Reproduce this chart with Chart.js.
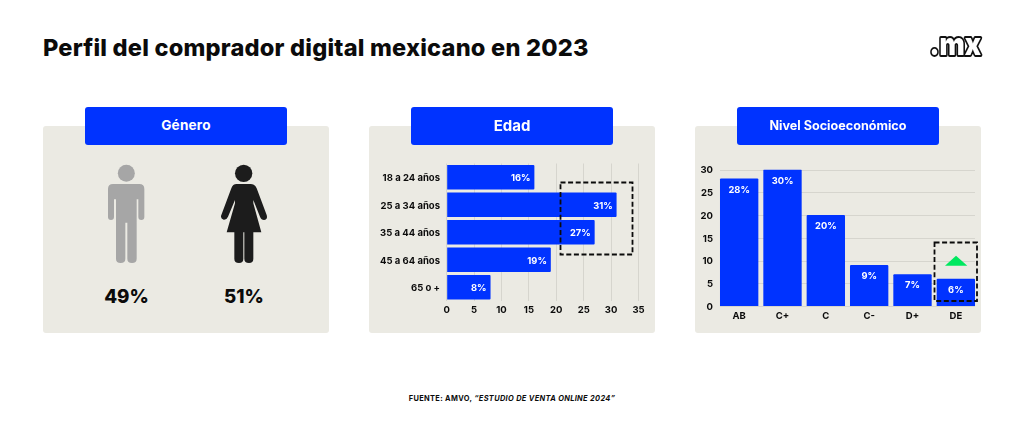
<!DOCTYPE html>
<html lang="es"><head><meta charset="utf-8">
<script src="https://cdn.jsdelivr.net/npm/chart.js@4"></script>
<style>
html,body{margin:0;padding:0;background:#fff;width:1024px;height:426px;overflow:hidden;font-family:Inter,sans-serif}
.a{position:absolute}
.panel{background:#ebeae3;border-radius:3px;top:126px;height:207px;width:286px}
.head{background:#0033ff;color:#fff;border-radius:3px;top:107px;height:38px;width:202px;line-height:37px;text-align:center;font-weight:700;z-index:3}
.pct{top:285px;font-size:18.8px;font-weight:800;color:#0b0b0b;width:80px;text-align:center;line-height:24px}
canvas{position:absolute;display:block}
svg{position:absolute;left:0;top:0;z-index:4;pointer-events:none}
</style></head><body>
<div class="a" id="title" style="left:43px;top:33px;font-size:23.6px;font-weight:800;letter-spacing:.2px;line-height:30px;color:#0b0b0b;white-space:nowrap"></div>
<div class="a panel" style="left:43px"></div>
<div class="a panel" style="left:369px"></div>
<div class="a panel" style="left:695px"></div>
<div class="a head" id="h0" style="left:85px;font-size:13.6px;letter-spacing:.2px"></div>
<div class="a head" id="h1" style="left:411px;font-size:15px"></div>
<div class="a head" id="h2" style="left:737px;font-size:12.6px"></div>
<div class="a pct" id="p0" style="left:86.5px;z-index:3"></div>
<div class="a pct" id="p1" style="left:204px;z-index:3"></div>
<canvas id="cA" style="left:369px;top:126px;z-index:2" width="286" height="207"></canvas>
<canvas id="cB" style="left:695px;top:126px;z-index:2" width="286" height="207"></canvas>
<div class="a" id="src" style="left:312px;width:400px;top:393px;text-align:center;font-size:7.4px;font-weight:700;letter-spacing:.35px;line-height:12px;color:#0b0b0b;white-space:nowrap"></div>
<svg width="1024" height="426" viewBox="0 0 1024 426">
  <g transform="translate(40 100) scale(.33333)">
    <circle cx="259" cy="220" r="25.5" fill="#a6a6a6"/>
    <path fill="#a6a6a6" d="M219 252H298Q313 252 313 267V351Q313 360 304 360Q295 360 295 351V298H290V476Q290 489 276 489Q262 489 262 476V368H256V476Q256 489 242 489Q228 489 228 476V298H222V351Q222 360 213 360Q204 360 204 351V267Q204 252 219 252Z"/>
    <circle cx="611" cy="220" r="26" fill="#1c1c1c"/>
    <path fill="#1c1c1c" d="M590 252H632Q645 252 650 265L680 345Q684 358 672 360Q664 360 660 350L640 300V310L664 397H640V476Q640 489 627 489Q613 489 613 476V397H610V476Q610 489 597 489Q583 489 583 476V397H560L585 310V300L564 350Q560 360 551 359Q540 355 544 345L574 265Q578 252 590 252Z"/>
  </g>
  <rect x="560.5" y="182.5" width="72" height="72" fill="none" stroke="#0b0b0b" stroke-width="1.8" stroke-dasharray="5 2.6"/>
  <rect x="934.5" y="242.5" width="42.5" height="58.5" fill="none" stroke="#0b0b0b" stroke-width="1.8" stroke-dasharray="5 2.6"/>
  <polygon points="945,265.7 956,255.8 967.3,265.7" fill="#00e85f"/>
  <text x="929.5" y="55" font-family="Inter" font-weight="900" font-size="31" textLength="51.5" lengthAdjust="spacingAndGlyphs" fill="#fff" stroke="#111" stroke-width="3.8" stroke-linejoin="round" paint-order="stroke">.mx</text>
</svg>
<script>
const titleText = "Perfil del comprador digital mexicano en 2023";
const sourceLead = "FUENTE: AMVO, ";
const sourceItalic = "\u201CESTUDIO DE VENTA ONLINE 2024\u201D";
const panelTitles = ["Género", "Edad", "Nivel Socioeconómico"];
const genderValues = ["49%", "51%"];
const ageCategories = ["18 a 24 años", "25 a 34 años", "35 a 44 años", "45 a 64 años", "65 o +"];
const ageValues = [16, 31, 27, 19, 8];
const ageTicks = [0, 5, 10, 15, 20, 25, 30, 35];
const nseCategories = ["AB", "C+", "C", "C-", "D+", "DE"];
const nseValues = [28, 30, 20, 9, 7, 6];
const nseTicks = [0, 5, 10, 15, 20, 25, 30];

const BLUE = "#0033ff", GRID = "#d6d5ce", INK = "#0b0b0b";
document.getElementById("title").textContent = titleText;
panelTitles.forEach((t, i) => document.getElementById("h" + i).textContent = t);
genderValues.forEach((t, i) => document.getElementById("p" + i).textContent = t);
const src = document.getElementById("src");
src.textContent = sourceLead;
const em = document.createElement("i"); em.textContent = sourceItalic; src.appendChild(em);

const tickFont = {family: "Inter", size: 9.5, weight: "700"};
Chart.defaults.animation = false;
Chart.defaults.responsive = false;

const valueLabels = {
  id: "valueLabels",
  afterDatasetsDraw(chart) {
    const ctx = chart.ctx, horizontal = chart.options.indexAxis === "y";
    ctx.save();
    ctx.fillStyle = "#fff";
    ctx.font = "700 9.3px Inter";
    ctx.textBaseline = "middle";
    chart.getDatasetMeta(0).data.forEach((bar, i) => {
      const txt = chart.data.datasets[0].data[i] + "%";
      if (horizontal) {
        ctx.textAlign = "right";
        ctx.fillText(txt, bar.x - 4, bar.y + 1);
      } else {
        ctx.textAlign = "center";
        ctx.fillText(txt, bar.x, bar.y + 11.5);
      }
    });
    ctx.restore();
  }
};
/* horizontal grid of the column chart stops at the outer bar edges */
const insetGrid = {
  id: "insetGrid",
  beforeDatasetsDraw(chart) {
    const y = chart.scales.y, m = chart.getDatasetMeta(0).data, ctx = chart.ctx;
    const l = m[0].x - m[0].width / 2, r = m[m.length - 1].x + m[m.length - 1].width / 2;
    ctx.save(); ctx.strokeStyle = GRID; ctx.lineWidth = 1;
    y.ticks.forEach(t => {
      const p = Math.round(y.getPixelForValue(t.value)) + .5;
      ctx.beginPath(); ctx.moveTo(l, p); ctx.lineTo(r, p); ctx.stroke();
    });
    ctx.restore();
  }
};

new Chart(document.getElementById("cA"), {
  type: "bar",
  data: {labels: ageCategories, datasets: [{data: ageValues, backgroundColor: BLUE, borderRadius: 1, barPercentage: .89, categoryPercentage: 1}]},
  options: {
    indexAxis: "y",
    layout: {padding: {top: 37.5, right: 16.5, bottom: 0, left: 0}},
    plugins: {legend: {display: false}, tooltip: {enabled: false}},
    scales: {
      x: {min: 0, max: 35, afterBuildTicks(s){ s.ticks = ageTicks.map(v => ({value: v})); },
          grid: {color: GRID, drawTicks: false},
          border: {display: false},
          ticks: {font: tickFont, color: INK, padding: 3, maxRotation: 0},
          afterFit(s){ s.height = 32; }},
      y: {grid: {display: false, drawTicks: false}, border: {display: false},
          ticks: {font: tickFont, color: INK, padding: 6.7, labelOffset: 1},
          afterFit(s){ s.width = 77.7; }}
    }
  },
  plugins: [valueLabels]
});

new Chart(document.getElementById("cB"), {
  type: "bar",
  data: {labels: nseCategories, datasets: [{data: nseValues, backgroundColor: BLUE, borderRadius: 1, barPercentage: .885, categoryPercentage: 1}]},
  options: {
    layout: {padding: {top: 43.5, right: 3.5, bottom: 0, left: 0}},
    plugins: {legend: {display: false}, tooltip: {enabled: false}},
    scales: {
      x: {grid: {display: false, drawTicks: false}, border: {display: false},
          ticks: {font: tickFont, color: INK, padding: 4, maxRotation: 0},
          afterFit(s){ s.height = 27; }},
      y: {min: 0, max: 30, afterBuildTicks(s){ s.ticks = nseTicks.map(v => ({value: v})); },
          grid: {display: false, drawTicks: false}, border: {display: false},
          ticks: {font: tickFont, color: INK, padding: 4.5, labelOffset: 1},
          afterFit(s){ s.width = 22.5; }}
    }
  },
  plugins: [valueLabels, insetGrid]
});
</script>
</body></html>
